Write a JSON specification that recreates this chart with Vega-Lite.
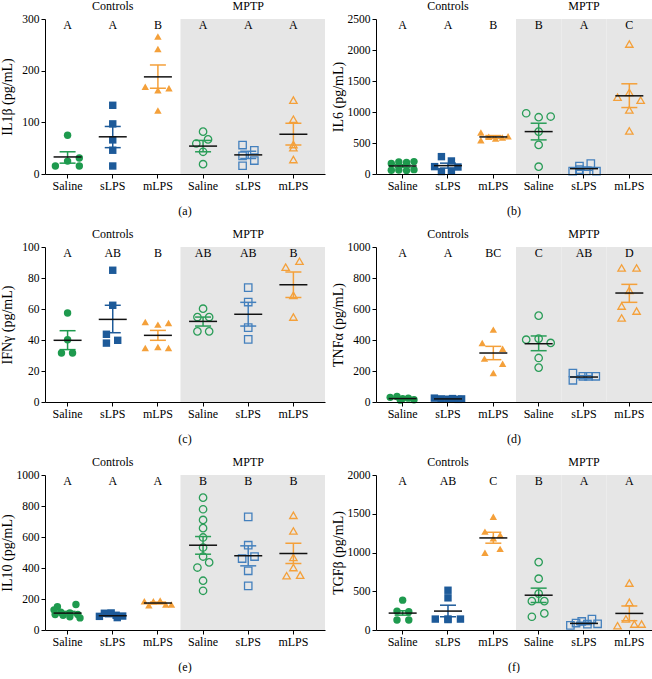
{
"$schema": "https://vega.github.io/schema/vega-lite/v6.json",
"background": "white",
"padding": {"left": 0, "top": 0, "right": 0, "bottom": 0},
"spacing": 11,
"config": {
  "font": "Liberation Serif",
  "view": {"stroke": null},
  "axis": {"labelFont": "Liberation Serif", "titleFont": "Liberation Serif", "labelFontSize": 12, "titleFontSize": 14, "titleFontWeight": "normal", "labelColor": "#000", "titleColor": "#000", "domainColor": "#000", "tickColor": "#000", "grid": false, "tickSize": 4},
  "axisX": {"labelAngle": 0, "labelPadding": 2},
  "axisY": {"labelPadding": 2, "minExtent": 28, "maxExtent": 28, "titlePadding": 3, "labelOverlap": false, "labelFontSize": 11.5, "format": "d", "tickCount": 10},
  "title": {"font": "Liberation Serif", "fontSize": 12, "fontWeight": "normal", "color": "#000", "offset": 15},
  "text": {"font": "Liberation Serif", "fontSize": 12, "baseline": "alphabetic", "color": "#000"},
  "point": {"opacity": 1, "size": 55},
  "tick": {"opacity": 1, "thickness": 1.5},
  "rule": {"strokeWidth": 1.5}
},
"datasets": {
"pts": [
{"p":"a","g":"C-Saline","v":15.5,"j":-0.54},{"p":"a","g":"C-Saline","v":25,"j":0},{"p":"a","g":"C-Saline","v":31,"j":0.52},{"p":"a","g":"C-Saline","v":15.5,"j":0.52},{"p":"a","g":"C-Saline","v":75,"j":0},
{"p":"a","g":"C-sLPS","v":133,"j":0},{"p":"a","g":"C-sLPS","v":97,"j":0},{"p":"a","g":"C-sLPS","v":66,"j":0},{"p":"a","g":"C-sLPS","v":46,"j":0},{"p":"a","g":"C-sLPS","v":15.5,"j":0},
{"p":"a","g":"C-mLPS","v":266,"j":0},{"p":"a","g":"C-mLPS","v":242,"j":0},{"p":"a","g":"C-mLPS","v":169,"j":-0.56},{"p":"a","g":"C-mLPS","v":162,"j":0},{"p":"a","g":"C-mLPS","v":166,"j":0.49},{"p":"a","g":"C-mLPS","v":123,"j":0},
{"p":"a","g":"M-Saline","v":82,"j":0},{"p":"a","g":"M-Saline","v":59,"j":-0.3},{"p":"a","g":"M-Saline","v":67,"j":0.22},{"p":"a","g":"M-Saline","v":43,"j":0},{"p":"a","g":"M-Saline","v":19,"j":0},
{"p":"a","g":"M-sLPS","v":56,"j":-0.25},{"p":"a","g":"M-sLPS","v":46,"j":0.27},{"p":"a","g":"M-sLPS","v":35,"j":-0.25},{"p":"a","g":"M-sLPS","v":26,"j":0.27},{"p":"a","g":"M-sLPS","v":16,"j":-0.25},
{"p":"a","g":"M-mLPS","v":143,"j":0},{"p":"a","g":"M-mLPS","v":106,"j":0},{"p":"a","g":"M-mLPS","v":57,"j":0},{"p":"a","g":"M-mLPS","v":51,"j":0},{"p":"a","g":"M-mLPS","v":28,"j":0},
{"p":"b","g":"C-Saline","v":170,"j":-0.5},{"p":"b","g":"C-Saline","v":195,"j":-0.17},{"p":"b","g":"C-Saline","v":185,"j":0.17},{"p":"b","g":"C-Saline","v":200,"j":0.5},{"p":"b","g":"C-Saline","v":60,"j":-0.5},{"p":"b","g":"C-Saline","v":65,"j":-0.17},{"p":"b","g":"C-Saline","v":55,"j":0.17},{"p":"b","g":"C-Saline","v":70,"j":0.5},
{"p":"b","g":"C-sLPS","v":280,"j":-0.29},{"p":"b","g":"C-sLPS","v":210,"j":0.15},{"p":"b","g":"C-sLPS","v":119,"j":-0.59},{"p":"b","g":"C-sLPS","v":113,"j":0.44},{"p":"b","g":"C-sLPS","v":40,"j":-0.29},{"p":"b","g":"C-sLPS","v":45,"j":0.15},
{"p":"b","g":"C-mLPS","v":668,"j":-0.55},{"p":"b","g":"C-mLPS","v":544,"j":-0.55},{"p":"b","g":"C-mLPS","v":600,"j":-0.2},{"p":"b","g":"C-mLPS","v":570,"j":0.1},{"p":"b","g":"C-mLPS","v":590,"j":0.4},{"p":"b","g":"C-mLPS","v":610,"j":0.65},
{"p":"b","g":"M-Saline","v":980,"j":-0.55},{"p":"b","g":"M-Saline","v":916,"j":0},{"p":"b","g":"M-Saline","v":927,"j":0.53},{"p":"b","g":"M-Saline","v":684,"j":0},{"p":"b","g":"M-Saline","v":469,"j":0},{"p":"b","g":"M-Saline","v":118,"j":0},
{"p":"b","g":"M-sLPS","v":48,"j":-0.5},{"p":"b","g":"M-sLPS","v":129,"j":-0.2},{"p":"b","g":"M-sLPS","v":167,"j":0.3},{"p":"b","g":"M-sLPS","v":50,"j":0.1},{"p":"b","g":"M-sLPS","v":45,"j":0.55},{"p":"b","g":"M-sLPS","v":70,"j":-0.2},
{"p":"b","g":"M-mLPS","v":2096,"j":0},{"p":"b","g":"M-mLPS","v":1239,"j":-0.52},{"p":"b","g":"M-mLPS","v":1315,"j":0},{"p":"b","g":"M-mLPS","v":1191,"j":0.5},{"p":"b","g":"M-mLPS","v":1034,"j":0},{"p":"b","g":"M-mLPS","v":695,"j":0},
{"p":"c","g":"C-Saline","v":57.4,"j":0},{"p":"c","g":"C-Saline","v":40.2,"j":0},{"p":"c","g":"C-Saline","v":31.6,"j":-0.27},{"p":"c","g":"C-Saline","v":31.6,"j":0.22},
{"p":"c","g":"C-sLPS","v":85,"j":0},{"p":"c","g":"C-sLPS","v":62.4,"j":0},{"p":"c","g":"C-sLPS","v":43.7,"j":-0.28},{"p":"c","g":"C-sLPS","v":38,"j":-0.28},{"p":"c","g":"C-sLPS","v":39.8,"j":0.22},
{"p":"c","g":"C-mLPS","v":51.6,"j":-0.56},{"p":"c","g":"C-mLPS","v":49.9,"j":0},{"p":"c","g":"C-mLPS","v":51,"j":0.47},{"p":"c","g":"C-mLPS","v":34.8,"j":-0.56},{"p":"c","g":"C-mLPS","v":35.5,"j":0},{"p":"c","g":"C-mLPS","v":34.8,"j":0.47},
{"p":"c","g":"M-Saline","v":60.2,"j":0},{"p":"c","g":"M-Saline","v":54.8,"j":-0.25},{"p":"c","g":"M-Saline","v":54.8,"j":0.27},{"p":"c","g":"M-Saline","v":45.6,"j":-0.25},{"p":"c","g":"M-Saline","v":45.6,"j":0.27},
{"p":"c","g":"M-sLPS","v":73.8,"j":0},{"p":"c","g":"M-sLPS","v":64.5,"j":0},{"p":"c","g":"M-sLPS","v":48,"j":0},{"p":"c","g":"M-sLPS","v":40.4,"j":0},
{"p":"c","g":"M-mLPS","v":87,"j":-0.34},{"p":"c","g":"M-mLPS","v":90.8,"j":0.27},{"p":"c","g":"M-mLPS","v":68.8,"j":0},{"p":"c","g":"M-mLPS","v":54.8,"j":0},
{"p":"d","g":"C-Saline","v":30,"j":-0.55},{"p":"d","g":"C-Saline","v":35,"j":-0.25},{"p":"d","g":"C-Saline","v":22,"j":0},{"p":"d","g":"C-Saline","v":25,"j":0.25},{"p":"d","g":"C-Saline","v":15,"j":0.5},{"p":"d","g":"C-Saline","v":12,"j":-0.1},
{"p":"d","g":"C-sLPS","v":25,"j":-0.6},{"p":"d","g":"C-sLPS","v":20,"j":-0.3},{"p":"d","g":"C-sLPS","v":18,"j":0},{"p":"d","g":"C-sLPS","v":22,"j":0.2},{"p":"d","g":"C-sLPS","v":17,"j":0.45},{"p":"d","g":"C-sLPS","v":20,"j":0.6},
{"p":"d","g":"C-mLPS","v":467,"j":0},{"p":"d","g":"C-mLPS","v":381,"j":-0.49},{"p":"d","g":"C-mLPS","v":344,"j":0.41},{"p":"d","g":"C-mLPS","v":280,"j":-0.39},{"p":"d","g":"C-mLPS","v":247,"j":0.41},{"p":"d","g":"C-mLPS","v":187,"j":0},
{"p":"d","g":"M-Saline","v":557,"j":0},{"p":"d","g":"M-Saline","v":402,"j":-0.55},{"p":"d","g":"M-Saline","v":409,"j":0},{"p":"d","g":"M-Saline","v":381,"j":0.53},{"p":"d","g":"M-Saline","v":284,"j":0},{"p":"d","g":"M-Saline","v":222,"j":0},
{"p":"d","g":"M-sLPS","v":187,"j":-0.49},{"p":"d","g":"M-sLPS","v":140,"j":-0.49},{"p":"d","g":"M-sLPS","v":166,"j":-0.05},{"p":"d","g":"M-sLPS","v":166,"j":0.2},{"p":"d","g":"M-sLPS","v":166,"j":0.52},
{"p":"d","g":"M-mLPS","v":865,"j":-0.34},{"p":"d","g":"M-mLPS","v":865,"j":0.32},{"p":"d","g":"M-mLPS","v":720,"j":0},{"p":"d","g":"M-mLPS","v":619,"j":-0.34},{"p":"d","g":"M-mLPS","v":587,"j":0.32},{"p":"d","g":"M-mLPS","v":542,"j":-0.34},
{"p":"e","g":"C-Saline","v":150,"j":-0.45},{"p":"e","g":"C-Saline","v":130,"j":-0.6},{"p":"e","g":"C-Saline","v":115,"j":-0.3},{"p":"e","g":"C-Saline","v":100,"j":-0.55},{"p":"e","g":"C-Saline","v":95,"j":-0.2},{"p":"e","g":"C-Saline","v":165,"j":0.37},{"p":"e","g":"C-Saline","v":110,"j":0.1},{"p":"e","g":"C-Saline","v":100,"j":0.45},{"p":"e","g":"C-Saline","v":85,"j":0.1},{"p":"e","g":"C-Saline","v":78,"j":0.55},
{"p":"e","g":"C-sLPS","v":88,"j":-0.59},{"p":"e","g":"C-sLPS","v":108,"j":-0.37},{"p":"e","g":"C-sLPS","v":110,"j":-0.07},{"p":"e","g":"C-sLPS","v":95,"j":0.15},{"p":"e","g":"C-sLPS","v":80,"j":0.2},{"p":"e","g":"C-sLPS","v":90,"j":0.44},
{"p":"e","g":"C-mLPS","v":185,"j":-0.6},{"p":"e","g":"C-mLPS","v":185,"j":-0.2},{"p":"e","g":"C-mLPS","v":190,"j":0.1},{"p":"e","g":"C-mLPS","v":165,"j":0.35},{"p":"e","g":"C-mLPS","v":165,"j":0.6},{"p":"e","g":"C-mLPS","v":160,"j":-0.4},
{"p":"e","g":"M-Saline","v":854,"j":0},{"p":"e","g":"M-Saline","v":779,"j":0},{"p":"e","g":"M-Saline","v":710,"j":0},{"p":"e","g":"M-Saline","v":657,"j":0},{"p":"e","g":"M-Saline","v":597,"j":0},{"p":"e","g":"M-Saline","v":532,"j":0},{"p":"e","g":"M-Saline","v":474,"j":0},{"p":"e","g":"M-Saline","v":403,"j":-0.25},{"p":"e","g":"M-Saline","v":436,"j":0.27},{"p":"e","g":"M-Saline","v":318,"j":0},{"p":"e","g":"M-Saline","v":253,"j":0},
{"p":"e","g":"M-sLPS","v":730,"j":0},{"p":"e","g":"M-sLPS","v":547,"j":0},{"p":"e","g":"M-sLPS","v":461,"j":-0.27},{"p":"e","g":"M-sLPS","v":474,"j":0.28},{"p":"e","g":"M-sLPS","v":382,"j":0},{"p":"e","g":"M-sLPS","v":285,"j":0},
{"p":"e","g":"M-mLPS","v":740,"j":0},{"p":"e","g":"M-mLPS","v":639,"j":0},{"p":"e","g":"M-mLPS","v":468,"j":0},{"p":"e","g":"M-mLPS","v":403,"j":0},{"p":"e","g":"M-mLPS","v":350,"j":-0.3},{"p":"e","g":"M-mLPS","v":354,"j":0.3},
{"p":"f","g":"C-Saline","v":385,"j":0},{"p":"f","g":"C-Saline","v":244,"j":-0.25},{"p":"f","g":"C-Saline","v":235,"j":0.27},{"p":"f","g":"C-Saline","v":128,"j":-0.25},{"p":"f","g":"C-Saline","v":128,"j":0.27},
{"p":"f","g":"C-sLPS","v":513,"j":0},{"p":"f","g":"C-sLPS","v":415,"j":0},{"p":"f","g":"C-sLPS","v":141,"j":-0.56},{"p":"f","g":"C-sLPS","v":141,"j":0},{"p":"f","g":"C-sLPS","v":141,"j":0.55},{"p":"f","g":"C-sLPS","v":135,"j":0},
{"p":"f","g":"C-mLPS","v":1462,"j":0},{"p":"f","g":"C-mLPS","v":1269,"j":-0.37},{"p":"f","g":"C-mLPS","v":1226,"j":0.3},{"p":"f","g":"C-mLPS","v":1184,"j":0},{"p":"f","g":"C-mLPS","v":996,"j":-0.37},{"p":"f","g":"C-mLPS","v":1047,"j":0.3},
{"p":"f","g":"M-Saline","v":876,"j":0},{"p":"f","g":"M-Saline","v":662,"j":0},{"p":"f","g":"M-Saline","v":470,"j":0},{"p":"f","g":"M-Saline","v":372,"j":-0.3},{"p":"f","g":"M-Saline","v":372,"j":0.25},{"p":"f","g":"M-Saline","v":171,"j":-0.3},{"p":"f","g":"M-Saline","v":214,"j":0.25},
{"p":"f","g":"M-sLPS","v":60,"j":-0.6},{"p":"f","g":"M-sLPS","v":90,"j":-0.35},{"p":"f","g":"M-sLPS","v":110,"j":-0.1},{"p":"f","g":"M-sLPS","v":75,"j":0.15},{"p":"f","g":"M-sLPS","v":140,"j":0.35},{"p":"f","g":"M-sLPS","v":80,"j":0.6},
{"p":"f","g":"M-mLPS","v":606,"j":0},{"p":"f","g":"M-mLPS","v":357,"j":0},{"p":"f","g":"M-mLPS","v":142,"j":-0.15},{"p":"f","g":"M-mLPS","v":55,"j":-0.52},{"p":"f","g":"M-mLPS","v":77,"j":0.22},{"p":"f","g":"M-mLPS","v":77,"j":0.54}
],
"sum": [
{"p":"a","g":"C-Saline","m":33,"lo":21,"hi":43,"L":"A"},{"p":"a","g":"C-sLPS","m":72,"lo":51,"hi":92,"L":"A"},{"p":"a","g":"C-mLPS","m":188,"lo":166,"hi":211,"L":"B"},{"p":"a","g":"M-Saline","m":54,"lo":43,"hi":65,"L":"A"},{"p":"a","g":"M-sLPS","m":37,"lo":30,"hi":44,"L":"A"},{"p":"a","g":"M-mLPS","m":77,"lo":56,"hi":98,"L":"A"},
{"p":"b","g":"C-Saline","m":130,"lo":110,"hi":150,"L":"A"},{"p":"b","g":"C-sLPS","m":135,"lo":95,"hi":175,"L":"A"},{"p":"b","g":"C-mLPS","m":598,"lo":575,"hi":620,"L":"B"},{"p":"b","g":"M-Saline","m":684,"lo":550,"hi":819,"L":"B"},{"p":"b","g":"M-sLPS","m":86,"lo":60,"hi":110,"L":"A"},{"p":"b","g":"M-mLPS","m":1261,"lo":1072,"hi":1455,"L":"C"},
{"p":"c","g":"C-Saline","m":39.8,"lo":33.8,"hi":46,"L":"A"},{"p":"c","g":"C-sLPS","m":53.3,"lo":44.7,"hi":62.4,"L":"AB"},{"p":"c","g":"C-mLPS","m":43,"lo":39.8,"hi":46.2,"L":"B"},{"p":"c","g":"M-Saline","m":52,"lo":49,"hi":54.8,"L":"AB"},{"p":"c","g":"M-sLPS","m":56.6,"lo":49,"hi":64.3,"L":"AB"},{"p":"c","g":"M-mLPS","m":75.7,"lo":67.5,"hi":83.9,"L":"B"},
{"p":"d","g":"C-Saline","m":22,"lo":18,"hi":26,"L":"A"},{"p":"d","g":"C-sLPS","m":20,"lo":17,"hi":23,"L":"A"},{"p":"d","g":"C-mLPS","m":316,"lo":273,"hi":359,"L":"BC"},{"p":"d","g":"M-Saline","m":376,"lo":331,"hi":426,"L":"C"},{"p":"d","g":"M-sLPS","m":161,"lo":153,"hi":170,"L":"AB"},{"p":"d","g":"M-mLPS","m":703,"lo":643,"hi":759,"L":"D"},
{"p":"e","g":"C-Saline","m":109,"lo":98,"hi":120,"L":"A"},{"p":"e","g":"C-sLPS","m":92,"lo":86,"hi":98,"L":"A"},{"p":"e","g":"C-mLPS","m":174,"lo":168,"hi":180,"L":"A"},{"p":"e","g":"M-Saline","m":547,"lo":489,"hi":603,"L":"B"},{"p":"e","g":"M-sLPS","m":479,"lo":414,"hi":543,"L":"B"},{"p":"e","g":"M-mLPS","m":494,"lo":429,"hi":560,"L":"B"},
{"p":"f","g":"C-Saline","m":218,"lo":192,"hi":248,"L":"A"},{"p":"f","g":"C-sLPS","m":244,"lo":171,"hi":320,"L":"AB"},{"p":"f","g":"C-mLPS","m":1188,"lo":1120,"hi":1261,"L":"C"},{"p":"f","g":"M-Saline","m":449,"lo":355,"hi":540,"L":"B"},{"p":"f","g":"M-sLPS","m":85,"lo":70,"hi":100,"L":"A"},{"p":"f","g":"M-mLPS","m":214,"lo":120,"hi":310,"L":"A"}
],
"hdr": [{"g":"C-sLPS","h":"Controls"},{"g":"M-sLPS","h":"MPTP"}]
},
"vconcat": [
{"spacing": 6, "hconcat": [
{"width": 280, "height": 155, "title": {"text": "(a)", "orient": "bottom"}, "resolve": {"scale": {"xOffset": "independent"}},
 "encoding": {"x": {"field": "g", "type": "nominal", "title": null, "scale": {"domain": ["C-Saline","C-sLPS","C-mLPS","M-Saline","M-sLPS","M-mLPS"], "paddingInner": 0, "paddingOuter": 0.1, "align": 0}, "axis": {"labelExpr": "split(datum.label,'-')[1]"}}},
 "layer": [
  {"data": {"name": "sum"}, "transform": [{"filter": "datum.p=='a' && indexof(datum.g,'M-')==0"}], "mark": {"type": "rect", "color": "#e6e6e6", "width": {"band": 1.2}, "xOffset": 4.5},
   "encoding": {"y": {"datum": 300, "type": "quantitative", "scale": {"domain": [0,300], "nice": false}, "title": "IL1β (pg/mL)", "axis": {"values": [0,100,200,300], "tickCount": 10}}, "y2": {"datum": 0}}},
  {"data": {"name": "hdr"}, "mark": {"type": "text"},
   "encoding": {"y": {"datum": 317.4, "type": "quantitative", "scale": {"domain": [0,300], "nice": false}, "title": "IL1β (pg/mL)"}, "text": {"field": "h"}}},
  {"data": {"name": "sum"}, "transform": [{"filter": "datum.p=='a'"}], "mark": {"type": "text"},
   "encoding": {"y": {"datum": 280, "type": "quantitative", "scale": {"domain": [0,300], "nice": false}, "title": "IL1β (pg/mL)"}, "text": {"field": "L"}}},
  {"data": {"name": "pts"}, "transform": [{"filter": "datum.p=='a' && indexof(datum.g,'C-')==0"}], "mark": {"type": "point", "filled": true},
   "encoding": {"y": {"field": "v", "type": "quantitative", "scale": {"domain": [0,300], "nice": false}, "title": "IL1β (pg/mL)", "axis": {"values": [0,100,200,300], "tickCount": 10}},
     "xOffset": {"field": "j", "type": "quantitative", "scale": {"domain": [-1,1]}},
     "color": {"field": "g", "type": "nominal", "legend": null, "scale": {"domain": ["C-Saline","C-sLPS","C-mLPS","M-Saline","M-sLPS","M-mLPS"], "range": ["#1e9a4e","#1d5a99","#f4a03a","#2a9d58","#4480bd","#f4a03a"]}},
     "shape": {"field": "g", "type": "nominal", "legend": null, "scale": {"domain": ["C-Saline","C-sLPS","C-mLPS","M-Saline","M-sLPS","M-mLPS"], "range": ["circle","square","triangle-up","circle","square","triangle-up"]}}}},
  {"data": {"name": "pts"}, "transform": [{"filter": "datum.p=='a' && indexof(datum.g,'M-')==0"}], "mark": {"type": "point", "filled": false, "strokeWidth": 1.3},
   "encoding": {"y": {"field": "v", "type": "quantitative", "scale": {"domain": [0,300], "nice": false}, "title": "IL1β (pg/mL)"},
     "xOffset": {"field": "j", "type": "quantitative", "scale": {"domain": [-1,1]}},
     "color": {"field": "g", "type": "nominal", "legend": null}, "shape": {"field": "g", "type": "nominal", "legend": null}}},
  {"data": {"name": "sum"}, "transform": [{"filter": "datum.p=='a'"}], "mark": {"type": "rule"},
   "encoding": {"y": {"field": "lo", "type": "quantitative", "scale": {"domain": [0,300], "nice": false}, "title": "IL1β (pg/mL)"}, "y2": {"field": "hi"}, "color": {"field": "g", "type": "nominal", "legend": null}}},
  {"data": {"name": "sum"}, "transform": [{"filter": "datum.p=='a'"}], "mark": {"type": "tick", "size": 16},
   "encoding": {"y": {"field": "lo", "type": "quantitative", "scale": {"domain": [0,300], "nice": false}, "title": "IL1β (pg/mL)"}, "color": {"field": "g", "type": "nominal", "legend": null}}},
  {"data": {"name": "sum"}, "transform": [{"filter": "datum.p=='a'"}], "mark": {"type": "tick", "size": 16},
   "encoding": {"y": {"field": "hi", "type": "quantitative", "scale": {"domain": [0,300], "nice": false}, "title": "IL1β (pg/mL)"}, "color": {"field": "g", "type": "nominal", "legend": null}}},
  {"data": {"name": "sum"}, "transform": [{"filter": "datum.p=='a'"}], "mark": {"type": "tick", "size": 28, "color": "#111"},
   "encoding": {"y": {"field": "m", "type": "quantitative", "scale": {"domain": [0,300], "nice": false}, "title": "IL1β (pg/mL)"}}}
 ]},
{"width": 276, "height": 155, "title": {"text": "(b)", "orient": "bottom"}, "resolve": {"scale": {"xOffset": "independent"}},
 "encoding": {"x": {"field": "g", "type": "nominal", "title": null, "scale": {"domain": ["C-Saline","C-sLPS","C-mLPS","M-Saline","M-sLPS","M-mLPS"], "paddingInner": 0, "paddingOuter": 0.044, "align": 1}, "axis": {"labelExpr": "split(datum.label,'-')[1]"}}},
 "layer": [
  {"data": {"name": "sum"}, "transform": [{"filter": "datum.p=='b' && indexof(datum.g,'M-')==0"}], "mark": {"type": "rect", "color": "#e6e6e6"},
   "encoding": {"y": {"datum": 2500, "type": "quantitative", "scale": {"domain": [0,2500], "nice": false}, "title": "IL6 (pg/mL)", "axis": {"values": [0,500,1000,1500,2000,2500], "tickCount": 10}}, "y2": {"datum": 0}}},
  {"data": {"name": "hdr"}, "mark": {"type": "text"},
   "encoding": {"y": {"datum": 2645, "type": "quantitative", "scale": {"domain": [0,2500], "nice": false}, "title": "IL6 (pg/mL)"}, "text": {"field": "h"}}},
  {"data": {"name": "sum"}, "transform": [{"filter": "datum.p=='b'"}], "mark": {"type": "text"},
   "encoding": {"y": {"datum": 2333, "type": "quantitative", "scale": {"domain": [0,2500], "nice": false}, "title": "IL6 (pg/mL)"}, "text": {"field": "L"}}},
  {"data": {"name": "pts"}, "transform": [{"filter": "datum.p=='b' && indexof(datum.g,'C-')==0"}], "mark": {"type": "point", "filled": true},
   "encoding": {"y": {"field": "v", "type": "quantitative", "scale": {"domain": [0,2500], "nice": false}, "title": "IL6 (pg/mL)", "axis": {"values": [0,500,1000,1500,2000,2500], "tickCount": 10}},
     "xOffset": {"field": "j", "type": "quantitative", "scale": {"domain": [-1,1]}},
     "color": {"field": "g", "type": "nominal", "legend": null, "scale": {"domain": ["C-Saline","C-sLPS","C-mLPS","M-Saline","M-sLPS","M-mLPS"], "range": ["#1e9a4e","#1d5a99","#f4a03a","#2a9d58","#4480bd","#f4a03a"]}},
     "shape": {"field": "g", "type": "nominal", "legend": null, "scale": {"domain": ["C-Saline","C-sLPS","C-mLPS","M-Saline","M-sLPS","M-mLPS"], "range": ["circle","square","triangle-up","circle","square","triangle-up"]}}}},
  {"data": {"name": "pts"}, "transform": [{"filter": "datum.p=='b' && indexof(datum.g,'M-')==0"}], "mark": {"type": "point", "filled": false, "strokeWidth": 1.3},
   "encoding": {"y": {"field": "v", "type": "quantitative", "scale": {"domain": [0,2500], "nice": false}, "title": "IL6 (pg/mL)"},
     "xOffset": {"field": "j", "type": "quantitative", "scale": {"domain": [-1,1]}},
     "color": {"field": "g", "type": "nominal", "legend": null}, "shape": {"field": "g", "type": "nominal", "legend": null}}},
  {"data": {"name": "sum"}, "transform": [{"filter": "datum.p=='b'"}], "mark": {"type": "rule"},
   "encoding": {"y": {"field": "lo", "type": "quantitative", "scale": {"domain": [0,2500], "nice": false}, "title": "IL6 (pg/mL)"}, "y2": {"field": "hi"}, "color": {"field": "g", "type": "nominal", "legend": null}}},
  {"data": {"name": "sum"}, "transform": [{"filter": "datum.p=='b'"}], "mark": {"type": "tick", "size": 16},
   "encoding": {"y": {"field": "lo", "type": "quantitative", "scale": {"domain": [0,2500], "nice": false}, "title": "IL6 (pg/mL)"}, "color": {"field": "g", "type": "nominal", "legend": null}}},
  {"data": {"name": "sum"}, "transform": [{"filter": "datum.p=='b'"}], "mark": {"type": "tick", "size": 16},
   "encoding": {"y": {"field": "hi", "type": "quantitative", "scale": {"domain": [0,2500], "nice": false}, "title": "IL6 (pg/mL)"}, "color": {"field": "g", "type": "nominal", "legend": null}}},
  {"data": {"name": "sum"}, "transform": [{"filter": "datum.p=='b'"}], "mark": {"type": "tick", "size": 28, "color": "#111"},
   "encoding": {"y": {"field": "m", "type": "quantitative", "scale": {"domain": [0,2500], "nice": false}, "title": "IL6 (pg/mL)"}}}
 ]}
]},
{"spacing": 6, "hconcat": [
{"width": 280, "height": 155, "title": {"text": "(c)", "orient": "bottom"}, "resolve": {"scale": {"xOffset": "independent"}},
 "encoding": {"x": {"field": "g", "type": "nominal", "title": null, "scale": {"domain": ["C-Saline","C-sLPS","C-mLPS","M-Saline","M-sLPS","M-mLPS"], "paddingInner": 0, "paddingOuter": 0.1, "align": 0}, "axis": {"labelExpr": "split(datum.label,'-')[1]"}}},
 "layer": [
  {"data": {"name": "sum"}, "transform": [{"filter": "datum.p=='c' && indexof(datum.g,'M-')==0"}], "mark": {"type": "rect", "color": "#e6e6e6", "width": {"band": 1.2}, "xOffset": 4.5},
   "encoding": {"y": {"datum": 100, "type": "quantitative", "scale": {"domain": [0,100], "nice": false}, "title": "IFNγ (pg/mL)", "axis": {"values": [0,20,40,60,80,100], "tickCount": 10}}, "y2": {"datum": 0}}},
  {"data": {"name": "hdr"}, "mark": {"type": "text"},
   "encoding": {"y": {"datum": 105.8, "type": "quantitative", "scale": {"domain": [0,100], "nice": false}, "title": "IFNγ (pg/mL)"}, "text": {"field": "h"}}},
  {"data": {"name": "sum"}, "transform": [{"filter": "datum.p=='c'"}], "mark": {"type": "text"},
   "encoding": {"y": {"datum": 93.3, "type": "quantitative", "scale": {"domain": [0,100], "nice": false}, "title": "IFNγ (pg/mL)"}, "text": {"field": "L"}}},
  {"data": {"name": "pts"}, "transform": [{"filter": "datum.p=='c' && indexof(datum.g,'C-')==0"}], "mark": {"type": "point", "filled": true},
   "encoding": {"y": {"field": "v", "type": "quantitative", "scale": {"domain": [0,100], "nice": false}, "title": "IFNγ (pg/mL)", "axis": {"values": [0,20,40,60,80,100], "tickCount": 10}},
     "xOffset": {"field": "j", "type": "quantitative", "scale": {"domain": [-1,1]}},
     "color": {"field": "g", "type": "nominal", "legend": null, "scale": {"domain": ["C-Saline","C-sLPS","C-mLPS","M-Saline","M-sLPS","M-mLPS"], "range": ["#1e9a4e","#1d5a99","#f4a03a","#2a9d58","#4480bd","#f4a03a"]}},
     "shape": {"field": "g", "type": "nominal", "legend": null, "scale": {"domain": ["C-Saline","C-sLPS","C-mLPS","M-Saline","M-sLPS","M-mLPS"], "range": ["circle","square","triangle-up","circle","square","triangle-up"]}}}},
  {"data": {"name": "pts"}, "transform": [{"filter": "datum.p=='c' && indexof(datum.g,'M-')==0"}], "mark": {"type": "point", "filled": false, "strokeWidth": 1.3},
   "encoding": {"y": {"field": "v", "type": "quantitative", "scale": {"domain": [0,100], "nice": false}, "title": "IFNγ (pg/mL)"},
     "xOffset": {"field": "j", "type": "quantitative", "scale": {"domain": [-1,1]}},
     "color": {"field": "g", "type": "nominal", "legend": null}, "shape": {"field": "g", "type": "nominal", "legend": null}}},
  {"data": {"name": "sum"}, "transform": [{"filter": "datum.p=='c'"}], "mark": {"type": "rule"},
   "encoding": {"y": {"field": "lo", "type": "quantitative", "scale": {"domain": [0,100], "nice": false}, "title": "IFNγ (pg/mL)"}, "y2": {"field": "hi"}, "color": {"field": "g", "type": "nominal", "legend": null}}},
  {"data": {"name": "sum"}, "transform": [{"filter": "datum.p=='c'"}], "mark": {"type": "tick", "size": 16},
   "encoding": {"y": {"field": "lo", "type": "quantitative", "scale": {"domain": [0,100], "nice": false}, "title": "IFNγ (pg/mL)"}, "color": {"field": "g", "type": "nominal", "legend": null}}},
  {"data": {"name": "sum"}, "transform": [{"filter": "datum.p=='c'"}], "mark": {"type": "tick", "size": 16},
   "encoding": {"y": {"field": "hi", "type": "quantitative", "scale": {"domain": [0,100], "nice": false}, "title": "IFNγ (pg/mL)"}, "color": {"field": "g", "type": "nominal", "legend": null}}},
  {"data": {"name": "sum"}, "transform": [{"filter": "datum.p=='c'"}], "mark": {"type": "tick", "size": 28, "color": "#111"},
   "encoding": {"y": {"field": "m", "type": "quantitative", "scale": {"domain": [0,100], "nice": false}, "title": "IFNγ (pg/mL)"}}}
 ]},
{"width": 276, "height": 155, "title": {"text": "(d)", "orient": "bottom"}, "resolve": {"scale": {"xOffset": "independent"}},
 "encoding": {"x": {"field": "g", "type": "nominal", "title": null, "scale": {"domain": ["C-Saline","C-sLPS","C-mLPS","M-Saline","M-sLPS","M-mLPS"], "paddingInner": 0, "paddingOuter": 0.044, "align": 1}, "axis": {"labelExpr": "split(datum.label,'-')[1]"}}},
 "layer": [
  {"data": {"name": "sum"}, "transform": [{"filter": "datum.p=='d' && indexof(datum.g,'M-')==0"}], "mark": {"type": "rect", "color": "#e6e6e6"},
   "encoding": {"y": {"datum": 1000, "type": "quantitative", "scale": {"domain": [0,1000], "nice": false}, "title": "TNFα (pg/mL)", "axis": {"values": [0,200,400,600,800,1000], "tickCount": 10}}, "y2": {"datum": 0}}},
  {"data": {"name": "hdr"}, "mark": {"type": "text"},
   "encoding": {"y": {"datum": 1058, "type": "quantitative", "scale": {"domain": [0,1000], "nice": false}, "title": "TNFα (pg/mL)"}, "text": {"field": "h"}}},
  {"data": {"name": "sum"}, "transform": [{"filter": "datum.p=='d'"}], "mark": {"type": "text"},
   "encoding": {"y": {"datum": 933, "type": "quantitative", "scale": {"domain": [0,1000], "nice": false}, "title": "TNFα (pg/mL)"}, "text": {"field": "L"}}},
  {"data": {"name": "pts"}, "transform": [{"filter": "datum.p=='d' && indexof(datum.g,'C-')==0"}], "mark": {"type": "point", "filled": true},
   "encoding": {"y": {"field": "v", "type": "quantitative", "scale": {"domain": [0,1000], "nice": false}, "title": "TNFα (pg/mL)", "axis": {"values": [0,200,400,600,800,1000], "tickCount": 10}},
     "xOffset": {"field": "j", "type": "quantitative", "scale": {"domain": [-1,1]}},
     "color": {"field": "g", "type": "nominal", "legend": null, "scale": {"domain": ["C-Saline","C-sLPS","C-mLPS","M-Saline","M-sLPS","M-mLPS"], "range": ["#1e9a4e","#1d5a99","#f4a03a","#2a9d58","#4480bd","#f4a03a"]}},
     "shape": {"field": "g", "type": "nominal", "legend": null, "scale": {"domain": ["C-Saline","C-sLPS","C-mLPS","M-Saline","M-sLPS","M-mLPS"], "range": ["circle","square","triangle-up","circle","square","triangle-up"]}}}},
  {"data": {"name": "pts"}, "transform": [{"filter": "datum.p=='d' && indexof(datum.g,'M-')==0"}], "mark": {"type": "point", "filled": false, "strokeWidth": 1.3},
   "encoding": {"y": {"field": "v", "type": "quantitative", "scale": {"domain": [0,1000], "nice": false}, "title": "TNFα (pg/mL)"},
     "xOffset": {"field": "j", "type": "quantitative", "scale": {"domain": [-1,1]}},
     "color": {"field": "g", "type": "nominal", "legend": null}, "shape": {"field": "g", "type": "nominal", "legend": null}}},
  {"data": {"name": "sum"}, "transform": [{"filter": "datum.p=='d'"}], "mark": {"type": "rule"},
   "encoding": {"y": {"field": "lo", "type": "quantitative", "scale": {"domain": [0,1000], "nice": false}, "title": "TNFα (pg/mL)"}, "y2": {"field": "hi"}, "color": {"field": "g", "type": "nominal", "legend": null}}},
  {"data": {"name": "sum"}, "transform": [{"filter": "datum.p=='d'"}], "mark": {"type": "tick", "size": 16},
   "encoding": {"y": {"field": "lo", "type": "quantitative", "scale": {"domain": [0,1000], "nice": false}, "title": "TNFα (pg/mL)"}, "color": {"field": "g", "type": "nominal", "legend": null}}},
  {"data": {"name": "sum"}, "transform": [{"filter": "datum.p=='d'"}], "mark": {"type": "tick", "size": 16},
   "encoding": {"y": {"field": "hi", "type": "quantitative", "scale": {"domain": [0,1000], "nice": false}, "title": "TNFα (pg/mL)"}, "color": {"field": "g", "type": "nominal", "legend": null}}},
  {"data": {"name": "sum"}, "transform": [{"filter": "datum.p=='d'"}], "mark": {"type": "tick", "size": 28, "color": "#111"},
   "encoding": {"y": {"field": "m", "type": "quantitative", "scale": {"domain": [0,1000], "nice": false}, "title": "TNFα (pg/mL)"}}}
 ]}
]},
{"spacing": 6, "hconcat": [
{"width": 280, "height": 155, "title": {"text": "(e)", "orient": "bottom"}, "resolve": {"scale": {"xOffset": "independent"}},
 "encoding": {"x": {"field": "g", "type": "nominal", "title": null, "scale": {"domain": ["C-Saline","C-sLPS","C-mLPS","M-Saline","M-sLPS","M-mLPS"], "paddingInner": 0, "paddingOuter": 0.1, "align": 0}, "axis": {"labelExpr": "split(datum.label,'-')[1]"}}},
 "layer": [
  {"data": {"name": "sum"}, "transform": [{"filter": "datum.p=='e' && indexof(datum.g,'M-')==0"}], "mark": {"type": "rect", "color": "#e6e6e6", "width": {"band": 1.2}, "xOffset": 4.5},
   "encoding": {"y": {"datum": 1000, "type": "quantitative", "scale": {"domain": [0,1000], "nice": false}, "title": "IL10 (pg/mL)", "axis": {"values": [0,200,400,600,800,1000], "tickCount": 10}}, "y2": {"datum": 0}}},
  {"data": {"name": "hdr"}, "mark": {"type": "text"},
   "encoding": {"y": {"datum": 1058, "type": "quantitative", "scale": {"domain": [0,1000], "nice": false}, "title": "IL10 (pg/mL)"}, "text": {"field": "h"}}},
  {"data": {"name": "sum"}, "transform": [{"filter": "datum.p=='e'"}], "mark": {"type": "text"},
   "encoding": {"y": {"datum": 933, "type": "quantitative", "scale": {"domain": [0,1000], "nice": false}, "title": "IL10 (pg/mL)"}, "text": {"field": "L"}}},
  {"data": {"name": "pts"}, "transform": [{"filter": "datum.p=='e' && indexof(datum.g,'C-')==0"}], "mark": {"type": "point", "filled": true},
   "encoding": {"y": {"field": "v", "type": "quantitative", "scale": {"domain": [0,1000], "nice": false}, "title": "IL10 (pg/mL)", "axis": {"values": [0,200,400,600,800,1000], "tickCount": 10}},
     "xOffset": {"field": "j", "type": "quantitative", "scale": {"domain": [-1,1]}},
     "color": {"field": "g", "type": "nominal", "legend": null, "scale": {"domain": ["C-Saline","C-sLPS","C-mLPS","M-Saline","M-sLPS","M-mLPS"], "range": ["#1e9a4e","#1d5a99","#f4a03a","#2a9d58","#4480bd","#f4a03a"]}},
     "shape": {"field": "g", "type": "nominal", "legend": null, "scale": {"domain": ["C-Saline","C-sLPS","C-mLPS","M-Saline","M-sLPS","M-mLPS"], "range": ["circle","square","triangle-up","circle","square","triangle-up"]}}}},
  {"data": {"name": "pts"}, "transform": [{"filter": "datum.p=='e' && indexof(datum.g,'M-')==0"}], "mark": {"type": "point", "filled": false, "strokeWidth": 1.3},
   "encoding": {"y": {"field": "v", "type": "quantitative", "scale": {"domain": [0,1000], "nice": false}, "title": "IL10 (pg/mL)"},
     "xOffset": {"field": "j", "type": "quantitative", "scale": {"domain": [-1,1]}},
     "color": {"field": "g", "type": "nominal", "legend": null}, "shape": {"field": "g", "type": "nominal", "legend": null}}},
  {"data": {"name": "sum"}, "transform": [{"filter": "datum.p=='e'"}], "mark": {"type": "rule"},
   "encoding": {"y": {"field": "lo", "type": "quantitative", "scale": {"domain": [0,1000], "nice": false}, "title": "IL10 (pg/mL)"}, "y2": {"field": "hi"}, "color": {"field": "g", "type": "nominal", "legend": null}}},
  {"data": {"name": "sum"}, "transform": [{"filter": "datum.p=='e'"}], "mark": {"type": "tick", "size": 16},
   "encoding": {"y": {"field": "lo", "type": "quantitative", "scale": {"domain": [0,1000], "nice": false}, "title": "IL10 (pg/mL)"}, "color": {"field": "g", "type": "nominal", "legend": null}}},
  {"data": {"name": "sum"}, "transform": [{"filter": "datum.p=='e'"}], "mark": {"type": "tick", "size": 16},
   "encoding": {"y": {"field": "hi", "type": "quantitative", "scale": {"domain": [0,1000], "nice": false}, "title": "IL10 (pg/mL)"}, "color": {"field": "g", "type": "nominal", "legend": null}}},
  {"data": {"name": "sum"}, "transform": [{"filter": "datum.p=='e'"}], "mark": {"type": "tick", "size": 28, "color": "#111"},
   "encoding": {"y": {"field": "m", "type": "quantitative", "scale": {"domain": [0,1000], "nice": false}, "title": "IL10 (pg/mL)"}}}
 ]},
{"width": 276, "height": 155, "title": {"text": "(f)", "orient": "bottom"}, "resolve": {"scale": {"xOffset": "independent"}},
 "encoding": {"x": {"field": "g", "type": "nominal", "title": null, "scale": {"domain": ["C-Saline","C-sLPS","C-mLPS","M-Saline","M-sLPS","M-mLPS"], "paddingInner": 0, "paddingOuter": 0.044, "align": 1}, "axis": {"labelExpr": "split(datum.label,'-')[1]"}}},
 "layer": [
  {"data": {"name": "sum"}, "transform": [{"filter": "datum.p=='f' && indexof(datum.g,'M-')==0"}], "mark": {"type": "rect", "color": "#e6e6e6"},
   "encoding": {"y": {"datum": 2000, "type": "quantitative", "scale": {"domain": [0,2000], "nice": false}, "title": "TGFβ (pg/mL)", "axis": {"values": [0,500,1000,1500,2000], "tickCount": 10}}, "y2": {"datum": 0}}},
  {"data": {"name": "hdr"}, "mark": {"type": "text"},
   "encoding": {"y": {"datum": 2116, "type": "quantitative", "scale": {"domain": [0,2000], "nice": false}, "title": "TGFβ (pg/mL)"}, "text": {"field": "h"}}},
  {"data": {"name": "sum"}, "transform": [{"filter": "datum.p=='f'"}], "mark": {"type": "text"},
   "encoding": {"y": {"datum": 1866, "type": "quantitative", "scale": {"domain": [0,2000], "nice": false}, "title": "TGFβ (pg/mL)"}, "text": {"field": "L"}}},
  {"data": {"name": "pts"}, "transform": [{"filter": "datum.p=='f' && indexof(datum.g,'C-')==0"}], "mark": {"type": "point", "filled": true},
   "encoding": {"y": {"field": "v", "type": "quantitative", "scale": {"domain": [0,2000], "nice": false}, "title": "TGFβ (pg/mL)", "axis": {"values": [0,500,1000,1500,2000], "tickCount": 10}},
     "xOffset": {"field": "j", "type": "quantitative", "scale": {"domain": [-1,1]}},
     "color": {"field": "g", "type": "nominal", "legend": null, "scale": {"domain": ["C-Saline","C-sLPS","C-mLPS","M-Saline","M-sLPS","M-mLPS"], "range": ["#1e9a4e","#1d5a99","#f4a03a","#2a9d58","#4480bd","#f4a03a"]}},
     "shape": {"field": "g", "type": "nominal", "legend": null, "scale": {"domain": ["C-Saline","C-sLPS","C-mLPS","M-Saline","M-sLPS","M-mLPS"], "range": ["circle","square","triangle-up","circle","square","triangle-up"]}}}},
  {"data": {"name": "pts"}, "transform": [{"filter": "datum.p=='f' && indexof(datum.g,'M-')==0"}], "mark": {"type": "point", "filled": false, "strokeWidth": 1.3},
   "encoding": {"y": {"field": "v", "type": "quantitative", "scale": {"domain": [0,2000], "nice": false}, "title": "TGFβ (pg/mL)"},
     "xOffset": {"field": "j", "type": "quantitative", "scale": {"domain": [-1,1]}},
     "color": {"field": "g", "type": "nominal", "legend": null}, "shape": {"field": "g", "type": "nominal", "legend": null}}},
  {"data": {"name": "sum"}, "transform": [{"filter": "datum.p=='f'"}], "mark": {"type": "rule"},
   "encoding": {"y": {"field": "lo", "type": "quantitative", "scale": {"domain": [0,2000], "nice": false}, "title": "TGFβ (pg/mL)"}, "y2": {"field": "hi"}, "color": {"field": "g", "type": "nominal", "legend": null}}},
  {"data": {"name": "sum"}, "transform": [{"filter": "datum.p=='f'"}], "mark": {"type": "tick", "size": 16},
   "encoding": {"y": {"field": "lo", "type": "quantitative", "scale": {"domain": [0,2000], "nice": false}, "title": "TGFβ (pg/mL)"}, "color": {"field": "g", "type": "nominal", "legend": null}}},
  {"data": {"name": "sum"}, "transform": [{"filter": "datum.p=='f'"}], "mark": {"type": "tick", "size": 16},
   "encoding": {"y": {"field": "hi", "type": "quantitative", "scale": {"domain": [0,2000], "nice": false}, "title": "TGFβ (pg/mL)"}, "color": {"field": "g", "type": "nominal", "legend": null}}},
  {"data": {"name": "sum"}, "transform": [{"filter": "datum.p=='f'"}], "mark": {"type": "tick", "size": 28, "color": "#111"},
   "encoding": {"y": {"field": "m", "type": "quantitative", "scale": {"domain": [0,2000], "nice": false}, "title": "TGFβ (pg/mL)"}}}
 ]}
]}
]
}
